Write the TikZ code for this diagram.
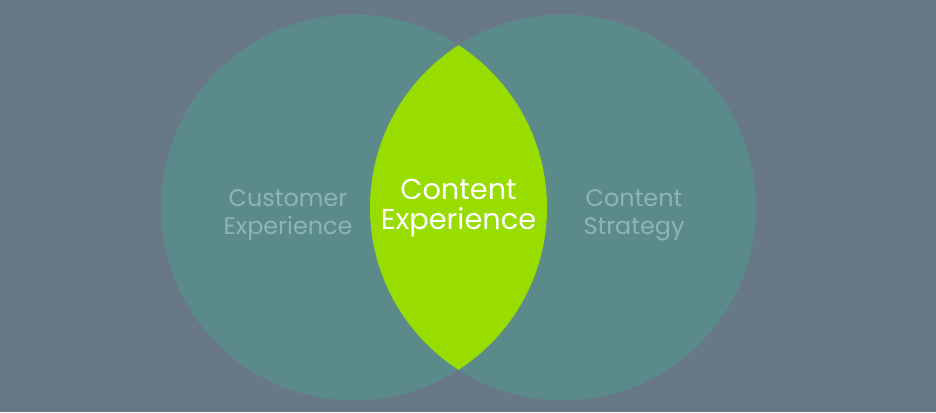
\documentclass[tikz,border=0pt]{standalone}
\usepackage{fontspec}
\setmainfont{Poppins}
\usetikzlibrary{positioning}

\definecolor{bggray}{HTML}{687886}
\definecolor{tealc}{HTML}{5A8A8A}
\definecolor{limec}{HTML}{99DD00}
\definecolor{paletxt}{HTML}{8FB4B4}

\begin{document}
\begin{tikzpicture}[
  every node/.style={font=\fontsize{6.8pt}{7.9pt}\selectfont},
  blob/.style={circle,fill=tealc,minimum size=3.86cm,inner sep=0pt},
  sidelabel/.style={align=center,text=paletxt},
  midlabel/.style={align=center,text=white,font=\fontsize{8.2pt}{8.5pt}\selectfont}
]

% ------------------------------------------------------------
% background
% ------------------------------------------------------------
\fill[bggray] (0,0) rectangle (9.36,4.12);
\useasboundingbox (0,0) rectangle (9.36,4.12);

% ------------------------------------------------------------
% the two circles
% ------------------------------------------------------------
\coordinate (lc) at (3.54,2.045);
\coordinate (rc) at (5.63,2.045);
\node[blob] (left) at (lc) {};
\node[blob] (right) at (rc) {};

% ------------------------------------------------------------
% overlap (lens)
% ------------------------------------------------------------
\begin{scope}
  \clip (lc) circle (1.93);
  \fill[limec] (rc) circle (1.93);
\end{scope}

% ------------------------------------------------------------
% labels
% ------------------------------------------------------------
\node[sidelabel] (cust) at (2.88,1.97) {Customer\\Experience};
\node[midlabel] (cexp) at (4.585,2.04) {Content\\Experience};
\node[sidelabel] (strat) at (6.34,1.97) {Content\\Strategy};

\end{tikzpicture}
\end{document}
